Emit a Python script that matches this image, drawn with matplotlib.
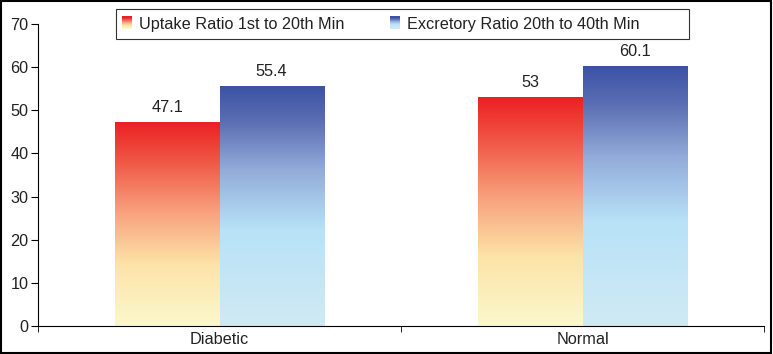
import numpy as np
import matplotlib.pyplot as plt
from matplotlib.colors import LinearSegmentedColormap
from matplotlib.legend_handler import HandlerBase
from matplotlib.patches import Rectangle

plt.rcParams['font.family'] = ['Liberation Sans', 'DejaVu Sans']

categories = ["Diabetic", "Normal"]
series_names = ["Uptake Ratio 1st to 20th Min", "Excretory Ratio 20th to 40th Min"]
uptake = [47.1, 53]
excretory = [55.4, 60.1]

# gradients, bottom -> top
red_cmap = LinearSegmentedColormap.from_list(
    "red_grad", [(0, "#fbf8cc"), (0.3, "#fde3a8"), (0.55, "#f8a47f"), (0.8, "#ef5a47"), (1, "#ec2024")])
blue_cmap = LinearSegmentedColormap.from_list(
    "blue_grad", [(0, "#d0eaf3"), (0.4, "#b8e2f8"), (0.65, "#93acd9"), (0.85, "#5c6fb4"), (1, "#3c53a4")])

fs = 11.7
txt = "#222222"

fig = plt.figure(figsize=(7.73, 3.54), dpi=100)
ax = fig.add_axes([38 / 773, 1 - 326 / 354, (764 - 38) / 773, (326 - 24) / 354])

x = np.arange(len(categories))
w = 0.287
grad = np.linspace(1, 0, 256).reshape(-1, 1)

for vals, cmap, off in [(uptake, red_cmap, -w), (excretory, blue_cmap, 0)]:
    bars = ax.bar(x + off, vals, width=w, align="edge", color="none", edgecolor="none")
    for b, v in zip(bars, vals):
        x0 = b.get_x()
        ax.imshow(grad, cmap=cmap, extent=[x0, x0 + w, 0, v], aspect="auto", zorder=2,
                  interpolation="bilinear")
        ax.annotate(f"{v:g}", (x0 + w / 2, v), xytext=(0, 5.5), textcoords="offset points",
                    ha="center", va="bottom", fontsize=fs, color=txt)

ax.set_xlim(-0.5, 1.5)
ax.set_ylim(0, 70)
ax.set_yticks(range(0, 71, 10))
ax.set_xticks(x)
ax.set_xticklabels(categories)
ax.set_xticks([-0.5, 0.5, 1.5], minor=True)
ax.tick_params(axis="x", which="major", length=0, pad=4, labelsize=fs, labelcolor=txt)
ax.tick_params(axis="x", which="minor", length=4, direction="out")
ax.tick_params(axis="y", length=5, labelsize=fs, labelcolor=txt, pad=2)
for s in ["top", "right"]:
    ax.spines[s].set_visible(False)


class GradHandler(HandlerBase):
    def __init__(self, cmap):
        super().__init__()
        self.cmap = cmap

    def create_artists(self, legend, orig_handle, xdescent, ydescent, width, height, fontsize, trans):
        n = 12
        arts = []
        sw = 7
        sh = 9
        x0 = width - sw - 1
        y0 = (height - sh) / 2
        for i in range(n):
            r = Rectangle((x0, y0 + sh * i / n), sw, sh / n + 0.2,
                          facecolor=self.cmap(i / (n - 1)), edgecolor="none", transform=trans)
            arts.append(r)
        return arts


h1 = Rectangle((0, 0), 1, 1)
h2 = Rectangle((0, 0), 1, 1)
leg = fig.legend([h1, h2], series_names, ncol=2, loc="center left",
                 bbox_to_anchor=(104 / 773, 1 - 24 / 354), frameon=False, fontsize=fs,
                 handlelength=0.9, handletextpad=0.35, columnspacing=2.6,
                 handler_map={h1: GradHandler(red_cmap), h2: GradHandler(blue_cmap)})
for t in leg.get_texts():
    t.set_color(txt)

# legend frame
fig.patches.append(Rectangle((116 / 773, 1 - 39 / 354), (689 - 116) / 773, 30 / 354,
                             transform=fig.transFigure, fill=False, edgecolor="#333333",
                             linewidth=0.8))

fig.patches.append(Rectangle((0.001, 0.002), 0.997, 0.995, transform=fig.transFigure,
                             fill=False, edgecolor="black", linewidth=1.5))

fig.savefig("out.png", dpi=100)
